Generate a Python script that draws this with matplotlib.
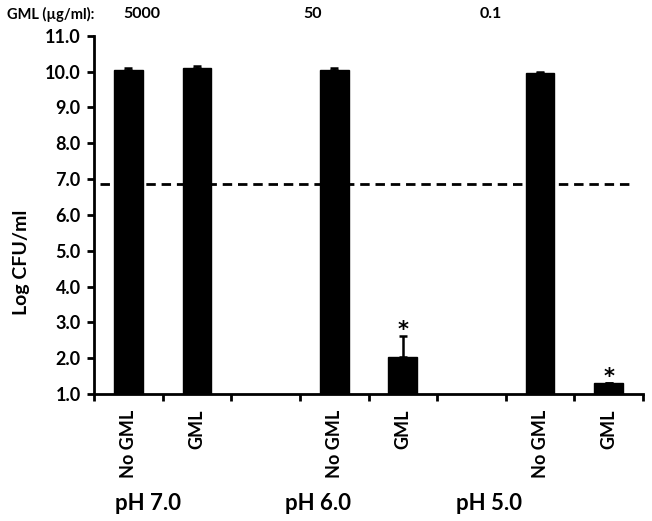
import matplotlib
matplotlib.use("Agg")
import matplotlib.pyplot as plt
import numpy as np

# ---- data ----
categories = ["No GML", "GML", "", "No GML", "GML", "", "No GML", "GML"]
values = [10.05, 10.10, None, 10.05, 2.02, None, 9.97, 1.30]
errors = [0.04, 0.05, None, 0.05, 0.60, None, 0.02, 0.0]
significant = [False, False, False, False, True, False, False, True]
ph_labels = ["pH 7.0", "pH 6.0", "pH 5.0"]
ph_positions = [0.79, 3.27, 5.76]
conc_labels = ["5000", "50", "0.1"]
conc_positions = [0.70, 3.19, 5.79]
threshold = 6.85
yticks = np.arange(1.0, 11.01, 1.0)

plt.rcParams['font.family'] = ['Lato', 'DejaVu Sans']

fig = plt.figure(figsize=(6.52, 5.21), dpi=100)
ax = fig.add_axes([94/652, 1-394/521, (643-94)/652, (394-35.7)/521])

xs = [i + 0.5 for i, v in enumerate(values) if v is not None]
hs = [v for v in values if v is not None]
es = [e for e in errors if e is not None]
ax.bar(xs, [h - 1.0 for h in hs], bottom=1.0, width=0.42, color='black',
       edgecolor='black', zorder=3)
ax.errorbar(xs, hs, yerr=[np.zeros(len(es)), es], fmt='none', ecolor='black',
            elinewidth=1.8, capsize=3, capthick=1.8, zorder=4)

for i, (v, e, s) in enumerate(zip(values, errors, significant)):
    if s:
        ax.text(i + 0.5, v + e + 0.18, "*", ha='center', va='center',
                fontsize=15, fontweight='bold', family=['DejaVu Sans'])

ax.plot([0.09, 7.8], [threshold, threshold], color='black', lw=2,
        dashes=(3.4, 2.1), zorder=2)

ax.set_xlim(0, 8)
ax.set_ylim(1.0, 11.0)
ax.set_yticks(yticks)
ax.set_yticklabels([f"{t:.1f}" for t in yticks], fontsize=13, fontweight='bold')
ax.set_xticks(np.arange(0, 9, 1))
ax.set_xticklabels([])
ax.set_xticks([i + 0.5 for i, c in enumerate(categories) if c], minor=True)
ax.set_xticklabels([c for c in categories if c], minor=True, rotation=90,
                   fontsize=13, fontweight='bold', va='top')
ax.tick_params(axis='x', which='minor', length=0, pad=11.5)
ax.tick_params(axis='x', which='major', length=5, width=2, direction='out')
ax.tick_params(axis='y', length=5, width=2, direction='out', pad=4.5)

for sp in ['top', 'right']:
    ax.spines[sp].set_visible(False)
for sp in ['left', 'bottom']:
    ax.spines[sp].set_linewidth(2)

fig.text(22/652, 1-262/521, "Log CFU/ml", rotation=90, ha='center', va='center',
         fontsize=14, fontweight='bold')

for p, lab in zip(ph_positions, ph_labels):
    fig.text((94 + p*68.6)/652, 1-503/521, lab, ha='center', va='center',
             fontsize=16, fontweight='bold')

fig.text(7/652, 1-14/521, "GML (µg/ml):", ha='left', va='center',
         fontsize=10.5, fontweight='bold')
for p, lab in zip(conc_positions, conc_labels):
    fig.text((94 + p*68.6)/652, 1-14/521, lab, ha='center', va='center',
             fontsize=11.5, fontweight='bold')

fig.savefig("out.png", dpi=100)
